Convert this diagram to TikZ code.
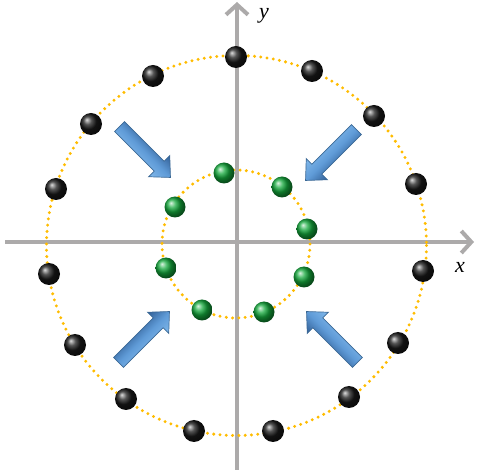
\documentclass[tikz,border=0pt]{standalone}
\usepackage{fontspec}
\setmainfont{Liberation Serif}
\usetikzlibrary{arrows.meta}
\definecolor{axisgray}{RGB}{172,170,170}
\definecolor{dotorange}{RGB}{255,188,0}
\definecolor{arrowlight}{RGB}{130,185,235}
\definecolor{arrowmid}{RGB}{95,155,215}
\definecolor{arrowdark}{RGB}{50,95,150}
\definecolor{arrowedge}{RGB}{60,105,150}
\definecolor{ballgreen}{RGB}{20,170,60}
\tikzset{
  axisline/.style={draw=axisgray,line width=4pt,-{Straight Barb[length=10pt,width=22pt]}},
  dotring/.style={draw=dotorange,line width=3.3pt,line cap=round,dash pattern=on 0pt off 6.3pt},
  arrowbody/.style={top color=arrowdark,bottom color=arrowlight,middle color=arrowmid,draw=arrowedge,line width=0.7pt,line join=miter},
  blackball/.style={circle,minimum size=22pt,inner sep=0pt,ball color=black!90},
  greenball/.style={circle,minimum size=21pt,inner sep=0pt,ball color=ballgreen},
  axislabel/.style={font=\itshape\fontsize{22}{22}\selectfont,inner sep=0pt}
}
\newcommand{\bluearrow}[3]{%
  \begin{scope}[transform canvas={shift={#1},rotate=#2}]
    \path[arrowbody] (-36,-7) -- (20,-7) -- (20,-15) -- (36,0) -- (20,15) -- (20,7) -- (-36,7) -- cycle;
    \coordinate (#3) at (0,0);
  \end{scope}}
\begin{document}
\begin{tikzpicture}[x=1pt,y=-1pt]
\useasboundingbox (0,0) rectangle (477,470);
% axes
\coordinate (xs) at (5,242);
\coordinate (xe) at (474,242);
\coordinate (ys) at (237,470);
\coordinate (ye) at (237,2);
\draw[axisline] (xs) -- (xe);
\draw[axisline] (ys) -- (ye);
\node[axislabel] (xl) at (460,267) {x};
\node[axislabel] (yl) at (264,16) {y};
% dotted circles
\coordinate (c1) at (236.5,245.5);
\coordinate (c2) at (236,244);
\draw[dotring] (c1) circle[radius=190];
\draw[dotring] (c2) circle[radius=74];
% blue arrows
\bluearrow{(145,152)}{-45}{a1}
\bluearrow{(331,155)}{-135}{a2}
\bluearrow{(144,337)}{45}{a3}
\bluearrow{(332,337)}{135}{a4}
% black balls
\node[blackball] (b1) at (236,57) {};
\node[blackball] (b2) at (312,71) {};
\node[blackball] (b3) at (374,116) {};
\node[blackball] (b4) at (416,184) {};
\node[blackball] (b5) at (423,271) {};
\node[blackball] (b6) at (398,343) {};
\node[blackball] (b7) at (349,397) {};
\node[blackball] (b8) at (273,431) {};
\node[blackball] (b9) at (194,431) {};
\node[blackball] (b10) at (126,399) {};
\node[blackball] (b11) at (75,345) {};
\node[blackball] (b12) at (49,274) {};
\node[blackball] (b13) at (56,189) {};
\node[blackball] (b14) at (91,124) {};
\node[blackball] (b15) at (153,76) {};
% green balls
\node[greenball] (g1) at (224,173) {};
\node[greenball] (g2) at (282,187) {};
\node[greenball] (g3) at (307,229) {};
\node[greenball] (g4) at (304,277) {};
\node[greenball] (g5) at (264,312) {};
\node[greenball] (g6) at (202,310) {};
\node[greenball] (g7) at (166,268) {};
\node[greenball] (g8) at (175,207) {};
\end{tikzpicture}
\end{document}
